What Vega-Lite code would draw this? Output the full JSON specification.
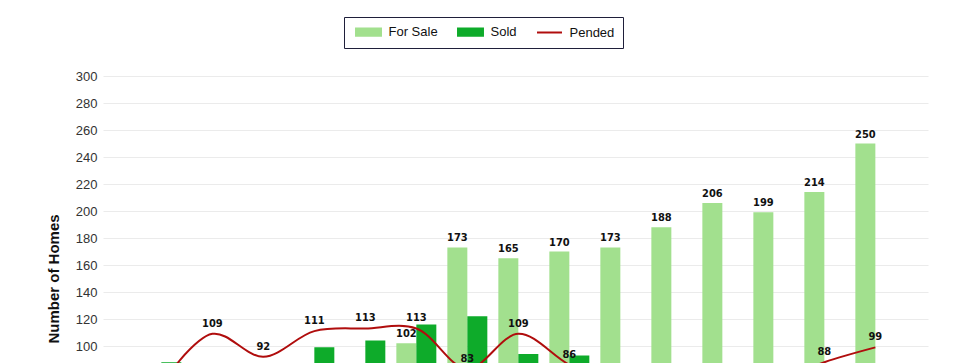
{
  "$schema": "https://vega.github.io/schema/vega-lite/v6.json",
  "autosize": {"type": "none"},
  "padding": {"left": 103, "top": 76, "right": 33, "bottom": 60},
  "width": 825,
  "height": 405,
  "background": "white",
  "config": {
    "view": {"stroke": null},
    "font": "Liberation Sans"
  },
  "data": {
    "values": [
      {"month": "Jan 2023", "series": "For Sale", "value": 62},
      {"month": "Feb 2023", "series": "For Sale", "value": 58},
      {"month": "Mar 2023", "series": "For Sale", "value": 60},
      {"month": "Apr 2023", "series": "For Sale", "value": 68},
      {"month": "May 2023", "series": "For Sale", "value": 74},
      {"month": "Jun 2023", "series": "For Sale", "value": 102},
      {"month": "Jul 2023", "series": "For Sale", "value": 173},
      {"month": "Aug 2023", "series": "For Sale", "value": 165},
      {"month": "Sep 2023", "series": "For Sale", "value": 170},
      {"month": "Oct 2023", "series": "For Sale", "value": 173},
      {"month": "Nov 2023", "series": "For Sale", "value": 188},
      {"month": "Dec 2023", "series": "For Sale", "value": 206},
      {"month": "Jan 2024", "series": "For Sale", "value": 199},
      {"month": "Feb 2024", "series": "For Sale", "value": 214},
      {"month": "Mar 2024", "series": "For Sale", "value": 250},
      {"month": "Jan 2023", "series": "Sold", "value": 88},
      {"month": "Feb 2023", "series": "Sold", "value": 80},
      {"month": "Mar 2023", "series": "Sold", "value": 75},
      {"month": "Apr 2023", "series": "Sold", "value": 99},
      {"month": "May 2023", "series": "Sold", "value": 104},
      {"month": "Jun 2023", "series": "Sold", "value": 116},
      {"month": "Jul 2023", "series": "Sold", "value": 122},
      {"month": "Aug 2023", "series": "Sold", "value": 94},
      {"month": "Sep 2023", "series": "Sold", "value": 93},
      {"month": "Oct 2023", "series": "Sold", "value": 80},
      {"month": "Nov 2023", "series": "Sold", "value": 78},
      {"month": "Dec 2023", "series": "Sold", "value": 72},
      {"month": "Jan 2024", "series": "Sold", "value": 70},
      {"month": "Feb 2024", "series": "Sold", "value": 75},
      {"month": "Mar 2024", "series": "Sold", "value": 65},
      {"month": "Jan 2023", "series": "Pended", "value": 72},
      {"month": "Feb 2023", "series": "Pended", "value": 109},
      {"month": "Mar 2023", "series": "Pended", "value": 92},
      {"month": "Apr 2023", "series": "Pended", "value": 111},
      {"month": "May 2023", "series": "Pended", "value": 113},
      {"month": "Jun 2023", "series": "Pended", "value": 113},
      {"month": "Jul 2023", "series": "Pended", "value": 83},
      {"month": "Aug 2023", "series": "Pended", "value": 109},
      {"month": "Sep 2023", "series": "Pended", "value": 86},
      {"month": "Oct 2023", "series": "Pended", "value": 70},
      {"month": "Nov 2023", "series": "Pended", "value": 65},
      {"month": "Dec 2023", "series": "Pended", "value": 70},
      {"month": "Jan 2024", "series": "Pended", "value": 73},
      {"month": "Feb 2024", "series": "Pended", "value": 88},
      {"month": "Mar 2024", "series": "Pended", "value": 99}
    ]
  },
  "encoding": {
    "x": {
      "field": "month",
      "type": "nominal",
      "sort": null,
      "scale": {"paddingInner": 0.216, "paddingOuter": 0.696, "align": 0.54},
      "axis": {"title": null, "labelAngle": 0, "domain": false, "ticks": false, "labelFontSize": 12, "labelColor": "#333"}
    },
    "y": {
      "field": "value",
      "type": "quantitative",
      "scale": {"domain": [0, 300], "nice": false, "zero": true},
      "axis": {
        "title": "Number of Homes",
        "titleFontSize": 15,
        "titleFontWeight": "bold",
        "titleColor": "#111",
        "titlePadding": 14,
        "values": [0, 20, 40, 60, 80, 100, 120, 140, 160, 180, 200, 220, 240, 260, 280, 300],
        "labelFontSize": 13,
        "labelColor": "#333",
        "labelPadding": 6,
        "ticks": false,
        "domain": false,
        "gridColor": "#ebebeb",
        "gridWidth": 1
      }
    }
  },
  "layer": [
    {
      "transform": [{"filter": "datum.series !== 'Pended'"}],
      "mark": {"type": "bar"},
      "encoding": {
        "xOffset": {"field": "series", "type": "nominal", "scale": {"domain": ["For Sale", "Sold"]}},
        "color": {
          "field": "series",
          "type": "nominal",
          "scale": {"domain": ["For Sale", "Sold", "Pended"], "range": ["#a2e08e", "#0eab2a", "#b00d0d"]},
          "legend": {
            "title": null,
            "orient": "none",
            "legendX": 241,
            "legendY": -59,
            "direction": "horizontal",
            "columns": 3,
            "columnPadding": 16,
            "padding": 8,
            "strokeColor": "#1f1f3a",
            "fillColor": "white",
            "symbolSize": 144,
            "symbolOffset": 9.5,
            "labelFontSize": 13,
            "labelColor": "#111",
            "labelOffset": 13,
            "labelFont": "Liberation Sans",
            "encode": {
              "symbols": {
                "update": {
                  "shape": {"signal": "datum.value === 'Pended' ? 'M-2.08,0H2.08' : 'M-2.08,-0.6H2.08V0.6H-2.08Z'"},
                  "fill": {"signal": "datum.value === 'Pended' ? 'transparent' : (datum.value === 'Sold' ? '#0eab2a' : '#a2e08e')"},
                  "stroke": {"signal": "datum.value === 'Pended' ? '#b00d0d' : 'transparent'"},
                  "strokeWidth": {"value": 2},
                  "opacity": {"value": 1}
                }
              }
            }
          }
        }
      }
    },
    {
      "transform": [{"filter": "datum.series === 'For Sale'"}],
      "mark": {"type": "text", "baseline": "alphabetic", "dy": -6, "fontSize": 11, "fontWeight": "bold", "font": "Liberation Sans Narrow, DejaVu Sans Condensed, sans-serif", "color": "#111"},
      "encoding": {
        "xOffset": {"field": "series", "type": "nominal", "scale": {"domain": ["For Sale", "Sold"]}},
        "text": {"field": "value", "type": "quantitative"}
      }
    },
    {
      "transform": [{"filter": "datum.series === 'Pended'"}],
      "mark": {"type": "line", "interpolate": "catmull-rom", "strokeWidth": 2},
      "encoding": {
        "color": {
          "field": "series",
          "type": "nominal",
          "scale": {"domain": ["For Sale", "Sold", "Pended"], "range": ["#a2e08e", "#0eab2a", "#b00d0d"]}
        }
      }
    },
    {
      "transform": [{"filter": "datum.series === 'Pended'"}],
      "mark": {"type": "text", "baseline": "alphabetic", "dy": -7, "fontSize": 11, "fontWeight": "bold", "font": "Liberation Sans Narrow, DejaVu Sans Condensed, sans-serif", "color": "#111"},
      "encoding": {
        "text": {"field": "value", "type": "quantitative"}
      }
    }
  ]
}
